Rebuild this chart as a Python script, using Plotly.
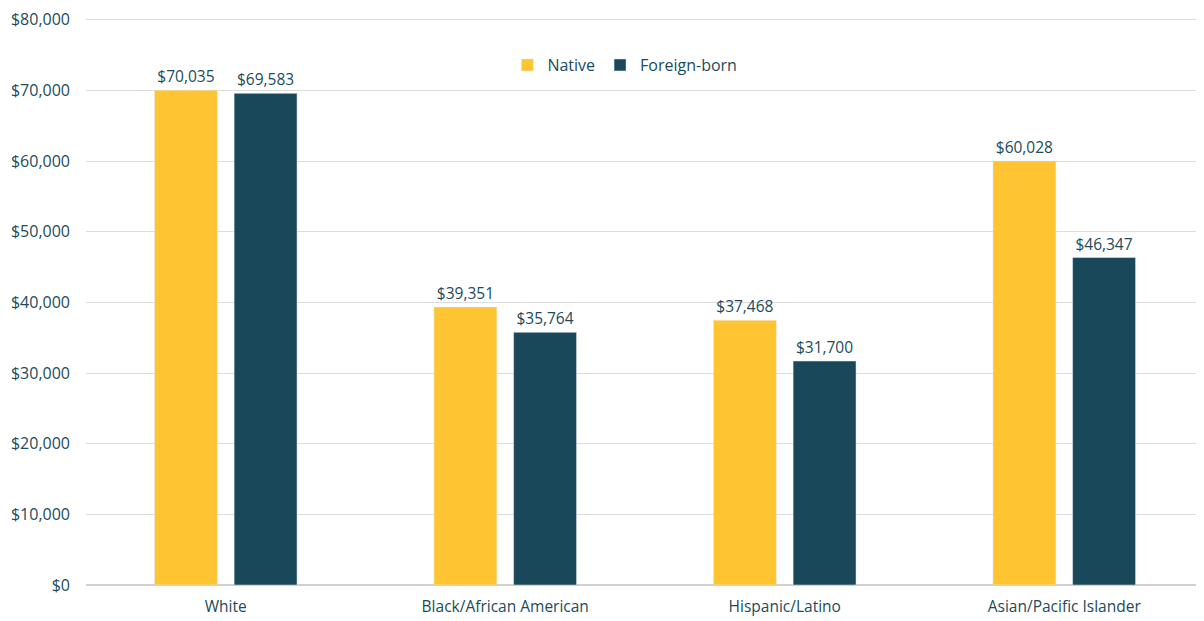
import plotly.graph_objects as go

categories = ["White", "Black/African American", "Hispanic/Latino", "Asian/Pacific Islander"]
native = [70035, 39351, 37468, 60028]
foreign_born = [69583, 35764, 31700, 46347]
tick_vals = [0, 10000, 20000, 30000, 40000, 50000, 60000, 70000, 80000]
tick_text = ["$0", "$10,000", "$20,000", "$30,000", "$40,000", "$50,000", "$60,000", "$70,000", "$80,000"]

TEXT = "#1b4b5c"
FONT = "Open Sans"

fig = go.Figure()
fig.add_trace(go.Bar(
    name="Native", x=categories, y=native, marker_color="#FFC432",
    text=[f"${v:,}" for v in native], textposition="outside",
    textfont=dict(family=FONT, size=15.5, color=TEXT), cliponaxis=False,
))
fig.add_trace(go.Bar(
    name="Foreign-born", x=categories, y=foreign_born, marker_color="#19485A",
    text=[f"${v:,}" for v in foreign_born], textposition="outside",
    textfont=dict(family=FONT, size=15.5, color=TEXT), cliponaxis=False,
))

fig.update_layout(
    width=1196, height=613,
    margin=dict(l=78, r=0, t=7, b=36),
    paper_bgcolor="white", plot_bgcolor="white",
    font=dict(family=FONT, size=16, color=TEXT),
    barmode="group", bargap=0.43, bargroupgap=0.21,
    showlegend=True,
    legend=dict(orientation="h", x=0.482, y=0.917, xanchor="center", yanchor="middle",
                font=dict(family=FONT, size=16, color=TEXT), bgcolor="rgba(0,0,0,0)",
                traceorder="normal"),
)
fig.update_yaxes(range=[0, 80250], tickvals=tick_vals, ticktext=tick_text,
                 showgrid=True, gridcolor="#dcdcdc", gridwidth=1,
                 zeroline=True, zerolinecolor="#d0d0d0", zerolinewidth=2,
                 ticks="", ticklabelstandoff=15, ticklabeloverflow="allow",
                 tickfont=dict(family=FONT, size=16, color=TEXT))
fig.update_xaxes(showline=False, ticks="", ticklabelstandoff=10,
                 tickfont=dict(family=FONT, size=15.5, color=TEXT))

fig.write_html("out.html")
